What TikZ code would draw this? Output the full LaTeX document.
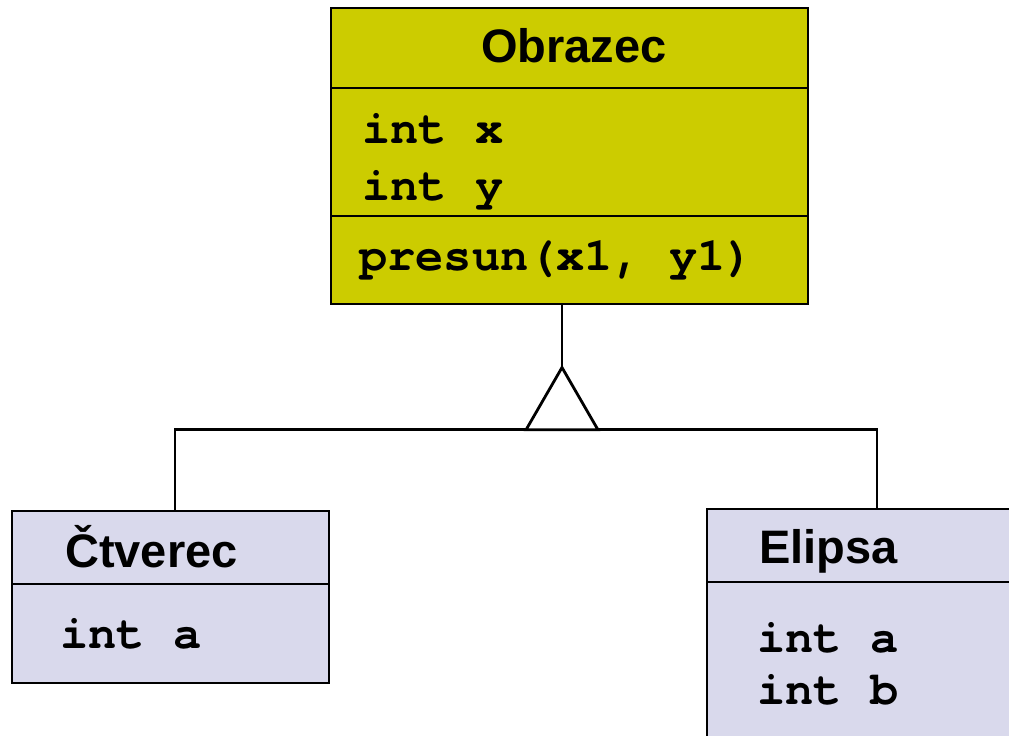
\documentclass[tikz,border=0pt]{standalone}
\usepackage{fontspec}
\setmainfont{Liberation Sans}
\setmonofont{TeX Gyre Cursor}
\usetikzlibrary{shapes.geometric}
\definecolor{obrfill}{HTML}{CCCC00}
\definecolor{subfill}{HTML}{D9D9EC}

\begin{document}
\begin{tikzpicture}[x=1pt, y=-1pt,
  klass/.style={rectangle, draw, line width=2.8pt, inner sep=0pt, outer sep=0pt},
  divider/.style={line width=2.2pt},
  title/.style={anchor=base west, inner sep=0pt, font=\fontsize{47}{56}\selectfont\bfseries},
  member/.style={anchor=base west, inner sep=0pt, font=\fontsize{47}{56}\selectfont\ttfamily\bfseries},
  link/.style={line width=2.8pt},
]
\clip (0,0) rectangle (1009,736);

% Base class
\node[klass, fill=obrfill, minimum width=477pt, minimum height=296pt] (obr) at (569.5,156) {};
\draw[divider] ([yshift=-80pt]obr.north west) -- ([yshift=-80pt]obr.north east);
\draw[divider] ([yshift=-208pt]obr.north west) -- ([yshift=-208pt]obr.north east);
\node[title] (obrname) at (481,62) {Obrazec};
\node[member] (obrx) at (362,143) {int x};
\node[member] (obry) at (362,200) {int y};
\node[member] (obrmove) at (359,270) {presun(x1, y1)};

% Subclasses
\node[klass, fill=subfill, minimum width=317pt, minimum height=172pt] (ctv) at (170.5,597) {};
\draw[divider] ([yshift=-73pt]ctv.north west) -- ([yshift=-73pt]ctv.north east);
\node[title] (ctvname) at (65,567) {Čtverec};
\node[member] (ctva) at (60,648) {int a};

\node[klass, fill=subfill, minimum width=313pt, minimum height=241pt] (eli) at (863.5,629.5) {};
\draw[divider] ([yshift=-73pt]eli.north west) -- ([yshift=-73pt]eli.north east);
\node[title] (eliname) at (759,563) {Elipsa};
\node[member] (elia) at (757,652) {int a};
\node[member] (elib) at (757,704) {int b};

% Generalization
\node[regular polygon, regular polygon sides=3, draw, line width=2.8pt,
      minimum size=83pt, inner sep=0pt, outer sep=0pt] (gen) at (562,409) {};
\draw[link] (gen.north) -- (gen.north |- obr.south);
\draw[link] (gen.corner 2) -| ([xshift=4.5pt]ctv.north);
\draw[link] (gen.corner 3) -| ([xshift=170pt]eli.north west);

\end{tikzpicture}
\end{document}
